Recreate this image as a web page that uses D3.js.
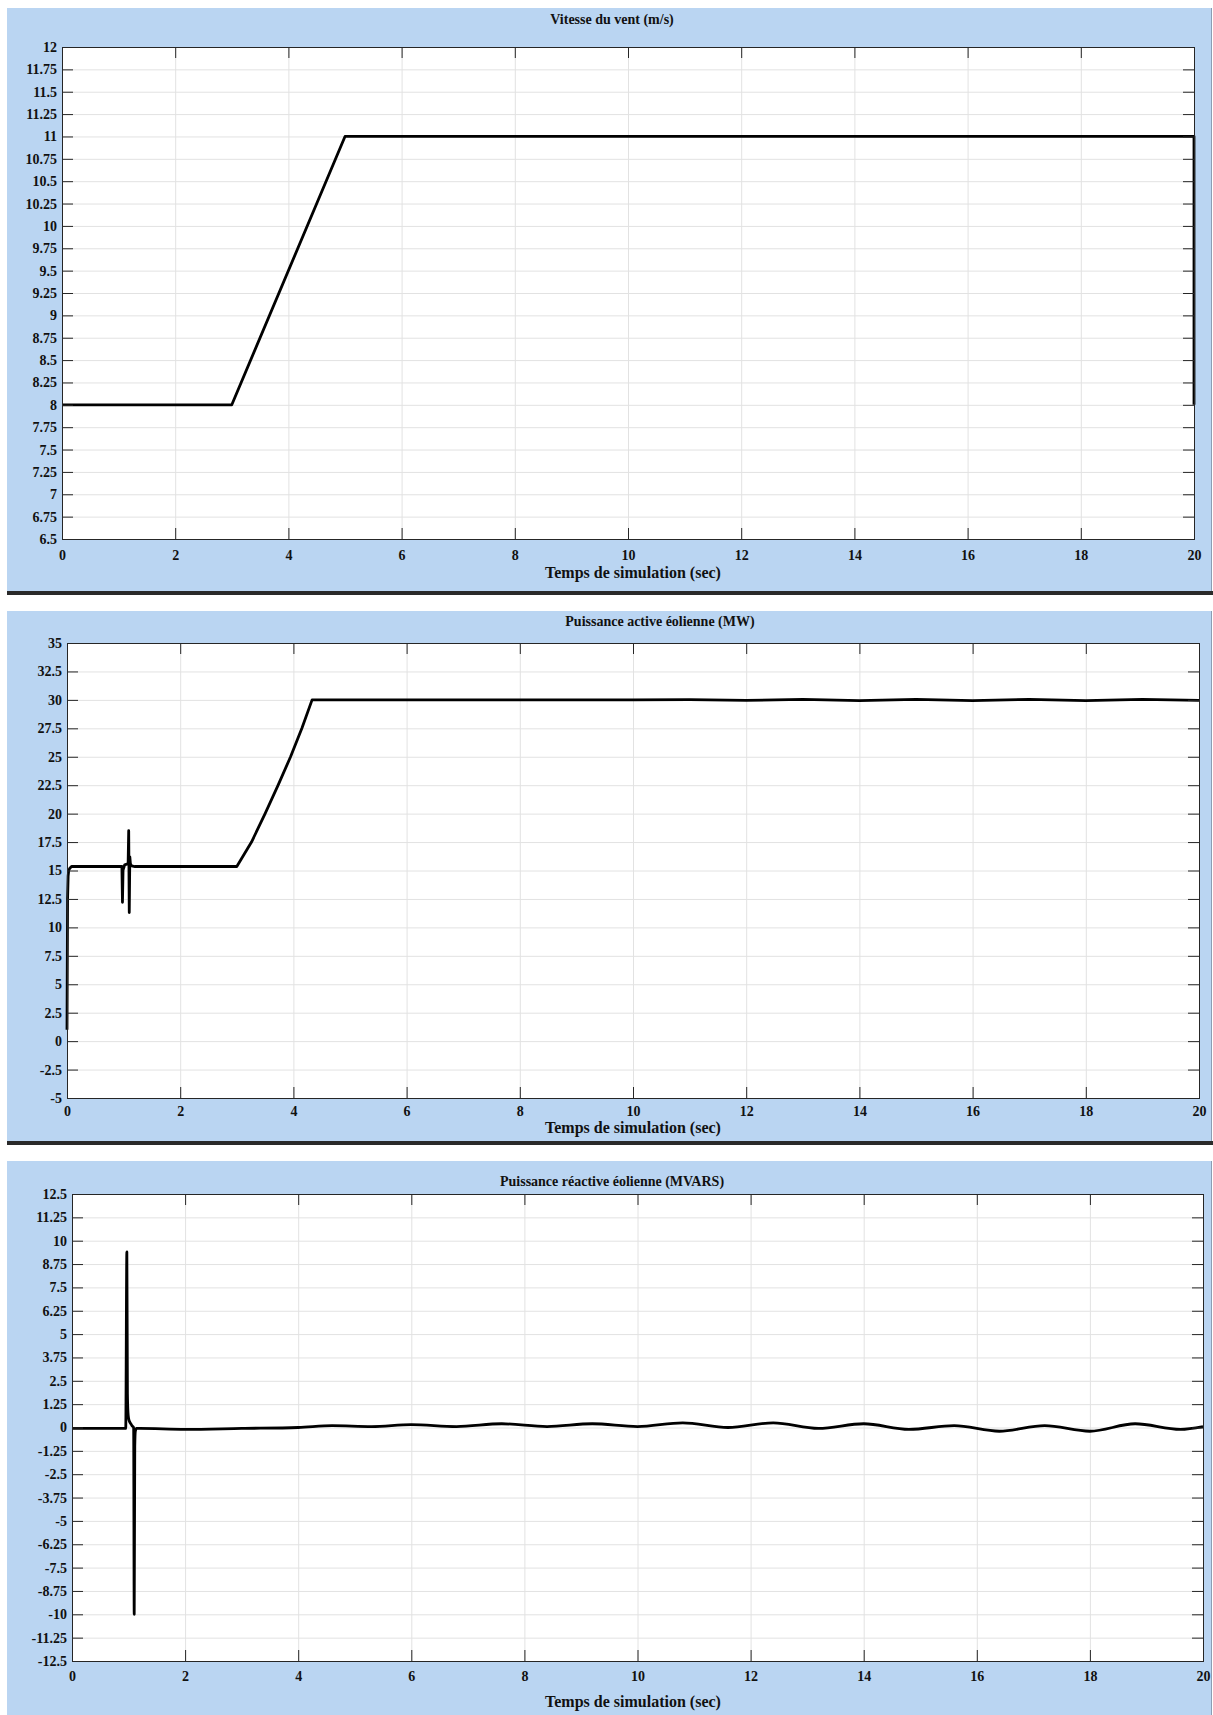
<!DOCTYPE html>
<html>
<head>
<meta charset="utf-8">
<script src="https://cdn.jsdelivr.net/npm/d3@7"></script>
<style>
  body { margin: 0; background: #fff; }
  text { font-family: "Liberation Serif", "Times New Roman", serif; font-weight: bold; fill: #111; }
</style>
</head>
<body>
<script>
const width = 1213;
const height = 1715;

// time ticks shared by the three plots
const xTicks = [0, 2, 4, 6, 8, 10, 12, 14, 16, 18, 20];

// wind speed (m/s)
const windT = [0, 3, 5, 20, 20];
const windV = [8, 8, 11, 11, 8];
const windTicks = [6.5, 6.75, 7, 7.25, 7.5, 7.75, 8, 8.25, 8.5, 8.75, 9, 9.25, 9.5, 9.75,
  10, 10.25, 10.5, 10.75, 11, 11.25, 11.5, 11.75, 12];

// active power (MW)
const activeT = [0, 0.01, 0.02, 0.03, 0.05, 0.08, 0.97, 0.98, 0.99, 1.0, 1.02, 1.08, 1.09, 1.1, 1.11,
  1.12, 1.14, 1.2, 3.0, 3.26, 3.5, 3.73, 3.95, 4.15, 4.33, 6, 8, 10, 11, 12, 13, 14, 15, 16, 17, 18, 19, 20];
const activeV = [1.0, 12.5, 14.5, 15.0, 15.2, 15.35, 15.35, 12.2, 15.0, 15.2, 15.5, 15.6, 18.5, 11.3, 16.2,
  15.6, 15.4, 15.35, 15.35, 17.5, 20, 22.5, 25, 27.5, 30, 30, 30, 30, 30.02, 29.95, 30.04, 29.94, 30.04,
  29.93, 30.05, 29.93, 30.05, 29.96];
const activeTicks = [-5, -2.5, 0, 2.5, 5, 7.5, 10, 12.5, 15, 17.5, 20, 22.5, 25, 27.5, 30, 32.5, 35];

// reactive power (MVARS)
const reactT = [0, 0.95, 0.97, 0.98, 0.99, 1.0, 1.02, 1.04, 1.06, 1.09, 1.1, 1.11, 1.12, 1.14, 1.2, 2.0,
  3.0, 4.0, 4.6, 5.3, 6.0, 6.8, 7.6, 8.4, 9.2, 10.0, 10.8, 11.6, 12.4, 13.2, 14.0, 14.8, 15.6, 16.4,
  17.2, 18.0, 18.8, 19.6, 20.0];
const reactV = [-0.05, -0.05, 9.4, 1.8, 0.8, 0.5, 0.3, 0.2, 0.1, 0.0, -10, -1.0, -0.2, -0.05, -0.05, -0.1,
  -0.05, 0.0, 0.1, 0.05, 0.15, 0.05, 0.2, 0.05, 0.2, 0.05, 0.25, 0.0, 0.25, -0.05, 0.2, -0.1, 0.1, -0.2,
  0.1, -0.2, 0.2, -0.1, 0.05];
const reactTicks = [-12.5, -11.25, -10, -8.75, -7.5, -6.25, -5, -3.75, -2.5, -1.25, 0, 1.25, 2.5, 3.75,
  5, 6.25, 7.5, 8.75, 10, 11.25, 12.5];

const svg = d3.select("body").append("svg")
    .attr("width", width)
    .attr("height", height);

function drawPanel(p) {
  const g = svg.append("g");

  // light blue figure background
  g.append("rect")
      .attr("x", 7).attr("y", p.bgTop)
      .attr("width", 1204).attr("height", p.bgBottom - p.bgTop)
      .attr("fill", "#bad5f2");
  g.append("line")
      .attr("x1", 1211.5).attr("x2", 1211.5)
      .attr("y1", p.bgTop).attr("y2", p.bgBottom)
      .attr("stroke", "#8c9db3");
  if (p.bar) {
    g.append("rect")
        .attr("x", 7).attr("y", p.bgBottom)
        .attr("width", 1206).attr("height", 4)
        .attr("fill", "#2a2a2a");
  }

  const x = d3.scaleLinear().domain([0, 20]).range([p.left, p.right]);
  const y = d3.scaleLinear().domain([p.ticks[0], p.ticks[p.ticks.length - 1]]).range([p.bottom, p.top]);
  const w = p.right - p.left;
  const h = p.bottom - p.top;

  g.append("rect")
      .attr("x", p.left).attr("y", p.top)
      .attr("width", w).attr("height", h)
      .attr("fill", "#fff");

  // grid
  g.append("g")
      .attr("transform", `translate(0,${p.bottom})`)
      .call(d3.axisBottom(x).tickValues(xTicks).tickSize(-h).tickFormat(""))
      .call(a => a.select(".domain").remove())
      .call(a => a.selectAll("line").attr("stroke", "#e2e2e2").attr("class", "grid"));
  g.append("g")
      .attr("transform", `translate(${p.left},0)`)
      .call(d3.axisLeft(y).tickValues(p.ticks).tickSize(-w).tickFormat(""))
      .call(a => a.select(".domain").remove())
      .call(a => a.selectAll("line").attr("stroke", "#e2e2e2").attr("class", "grid"));

  // signal
  const line = d3.line()
      .curve(p.curve || d3.curveLinear)
      .x(d => x(d[0]))
      .y(d => y(d[1]));
  g.append("path")
      .datum(p.t.map((t, i) => [t, p.v[i]]))
      .attr("d", line)
      .attr("fill", "none")
      .attr("stroke", "#000")
      .attr("stroke-width", 2.8)
      .attr("stroke-linejoin", "round");

  // axes, ticks inside on all four sides
  const fmt = d => String(d);
  g.append("g")
      .attr("transform", `translate(0,${p.bottom})`)
      .call(d3.axisBottom(x).tickValues(xTicks).tickSize(-11).tickPadding(p.xPad).tickFormat(fmt))
      .call(a => a.select(".domain").remove());
  g.append("g")
      .attr("transform", `translate(0,${p.top})`)
      .call(d3.axisTop(x).tickValues(xTicks).tickSize(-11).tickFormat(""))
      .call(a => a.select(".domain").remove());
  g.append("g")
      .attr("transform", `translate(${p.left},0)`)
      .call(d3.axisLeft(y).tickValues(p.ticks).tickSize(-11).tickPadding(5).tickFormat(fmt))
      .call(a => a.select(".domain").remove());
  g.append("g")
      .attr("transform", `translate(${p.right},0)`)
      .call(d3.axisRight(y).tickValues(p.ticks).tickSize(-11).tickFormat(""))
      .call(a => a.select(".domain").remove());

  g.selectAll(".tick line:not(.grid)").attr("stroke", "#262626");
  g.selectAll(".tick text")
      .attr("fill", "#111")
      .style("font-family", "'Liberation Serif', 'Times New Roman', serif")
      .style("font-weight", "bold")
      .style("font-size", "14px");

  g.append("rect")
      .attr("x", p.left + 0.5).attr("y", p.top + 0.5)
      .attr("width", w).attr("height", h)
      .attr("fill", "none")
      .attr("stroke", "#262626");

  g.append("text")
      .attr("x", p.titleX).attr("y", p.titleY)
      .attr("text-anchor", "middle")
      .style("font-size", "14px")
      .text(p.title);
  g.append("text")
      .attr("x", 633).attr("y", p.labelY)
      .attr("text-anchor", "middle")
      .style("font-size", "16px")
      .text("Temps de simulation (sec)");
}

drawPanel({
  bgTop: 8, bgBottom: 591, bar: true,
  left: 62, right: 1194, top: 47, bottom: 539,
  ticks: windTicks, t: windT, v: windV, xPad: 11,
  title: "Vitesse du vent (m/s)", titleX: 612, titleY: 24, labelY: 578
});
drawPanel({
  bgTop: 611, bgBottom: 1141, bar: true,
  left: 67, right: 1199, top: 643, bottom: 1098,
  ticks: activeTicks, t: activeT, v: activeV, xPad: 8,
  title: "Puissance active éolienne (MW)", titleX: 660, titleY: 626, labelY: 1133
});
drawPanel({
  bgTop: 1161, bgBottom: 1715, bar: false,
  left: 72, right: 1203, top: 1194, bottom: 1661,
  ticks: reactTicks, t: reactT, v: reactV, xPad: 10, curve: d3.curveMonotoneX,
  title: "Puissance réactive éolienne (MVARS)", titleX: 612, titleY: 1186, labelY: 1707
});
</script>
</body>
</html>
